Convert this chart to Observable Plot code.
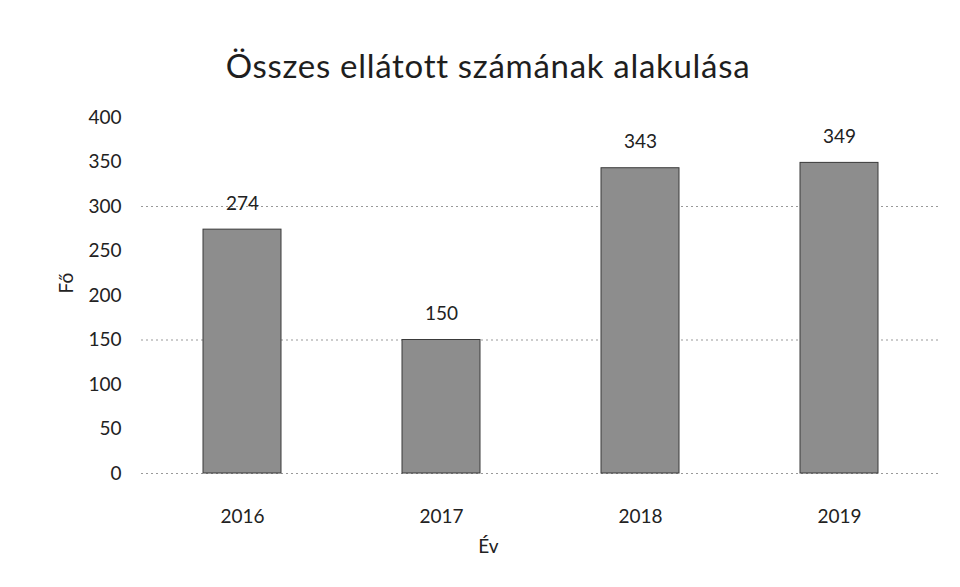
<!DOCTYPE html>
<html>
<head>
<meta charset="utf-8">
<script src="https://cdn.jsdelivr.net/npm/d3@7"></script>
<script src="https://cdn.jsdelivr.net/npm/@observablehq/plot@0.6"></script>
<style>
  html, body { margin: 0; padding: 0; background: #fff; }
  #wrap { width: 960px; height: 587px; position: relative; overflow: hidden; }
  #title { position: absolute; left: 0; top: 0; width: 976px; height: 100px; text-align: center;
           font-family: Lato, "Open Sans", sans-serif; font-size: 33px; letter-spacing: 0.7px; line-height: 1; color: #1e1e1e; }
  #title span { position: absolute; left: 0; right: 0; top: 49px; }
  #chart { position: absolute; left: 0; top: 100px; }
</style>
</head>
<body>
<div id="wrap">
  <div id="title"><span>Összes ellátott számának alakulása</span></div>
  <div id="chart"></div>
</div>
<script>
const years = ["2016", "2017", "2018", "2019"];
const values = [274, 150, 343, 349];
const yTicks = [0, 50, 100, 150, 200, 250, 300, 350, 400];
const gridValues = [0, 150, 300];
const xTitle = "Év";
const yTitle = "Fő";

const data = years.map((y, i) => ({year: y, value: values[i]}));
const font = "Lato, 'Open Sans', sans-serif";

const plot = Plot.plot({
  width: 960,
  height: 487,
  marginLeft: 141,
  marginRight: 21,
  marginTop: 17,
  marginBottom: 114,
  style: {fontFamily: font, fontSize: "19px", color: "#222", background: "white"},
  x: {domain: years, paddingInner: 0.61, paddingOuter: 0.305, label: null},
  y: {domain: [0, 400], label: null},
  marks: [
    Plot.ruleY(gridValues, {stroke: "#999", strokeWidth: 1, strokeDasharray: "2,3"}),
    Plot.barY(data, {x: "year", y: "value", fill: "#8d8d8d", stroke: "#3a3a3a", strokeWidth: 1}),
    Plot.text(data, {x: "year", y: "value", text: d => String(d.value), dy: -26, fontSize: 19, fill: "#222"}),
    Plot.axisY({ticks: yTicks, tickSize: 0, tickPadding: 20, fontSize: 19, label: null}),
    Plot.axisX({tickSize: 0, tickPadding: 36, fontSize: 19, label: null}),
    Plot.text([xTitle], {frameAnchor: "bottom", dx: -52, dy: 79, fontSize: 19, fill: "#222"}),
    Plot.text([yTitle], {frameAnchor: "left", dx: -75, dy: -2, rotate: -90, fontSize: 19, fill: "#222"})
  ]
});
document.getElementById("chart").appendChild(plot);
</script>
</body>
</html>
